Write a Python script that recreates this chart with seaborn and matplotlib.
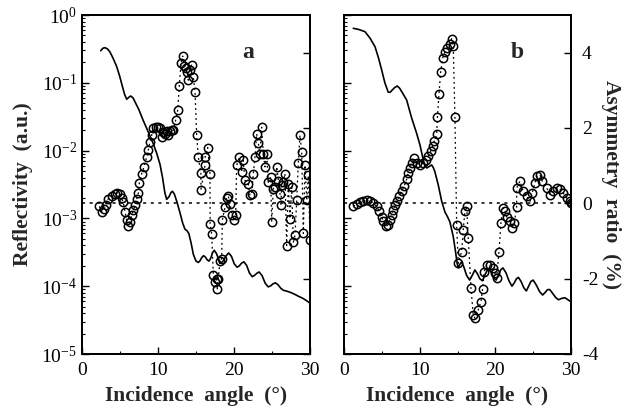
import numpy as np
import pandas as pd
import matplotlib
matplotlib.use("Agg")
import matplotlib.pyplot as plt
import seaborn as sns
from matplotlib.ticker import LogLocator, MultipleLocator, NullFormatter, LogFormatterMathtext, FixedLocator

# ---------------- data ----------------
# Panel a : reflectivity (log10 values) vs incidence angle
refl_a_angle = [2.46, 2.75, 3.03, 3.35, 3.68, 4.1, 4.57, 4.95, 5.26, 5.6, 5.88, 6.15, 6.41, 6.7,
                6.97, 7.5, 8.03, 8.7, 9.34, 9.8, 10.26, 10.6, 10.9, 11.14, 11.45, 11.7, 11.9,
                12.15, 12.5, 12.9, 13.25, 13.55, 13.8, 14.05, 14.35, 14.65, 15.0, 15.3, 15.53,
                15.77, 16.0, 16.23, 16.47, 16.7, 16.93, 17.17, 17.4, 17.7, 18.0, 18.3, 18.63,
                18.97, 19.3, 19.67, 20.03, 20.4, 20.7, 21.0, 21.3, 21.67, 22.03, 22.4, 22.7,
                23.0, 23.3, 23.7, 24.1, 24.5, 24.82, 25.13, 25.45, 25.8, 26.15, 26.5, 27.0,
                27.5, 28.0, 28.5, 29.0, 29.5, 30.0]
refl_a_log = [-0.527, -0.49, -0.482, -0.50, -0.546, -0.64, -0.763, -0.90, -1.03, -1.17, -1.243,
              -1.215, -1.195, -1.22, -1.28, -1.40, -1.549, -1.72, -1.888, -2.03, -2.20, -2.40,
              -2.62, -2.72, -2.68, -2.62, -2.60, -2.64, -2.76, -2.92, -3.07, -3.16, -3.18, -3.22,
              -3.36, -3.53, -3.63, -3.65, -3.625, -3.575, -3.55, -3.57, -3.61, -3.63, -3.59,
              -3.51, -3.47, -3.52, -3.61, -3.66, -3.62, -3.55, -3.51, -3.56, -3.67, -3.72,
              -3.70, -3.66, -3.64, -3.695, -3.805, -3.86, -3.84, -3.81, -3.79, -3.845, -3.955,
              -4.01, -3.995, -3.965, -3.95, -3.98, -4.03, -4.06, -4.075, -4.095, -4.12, -4.15,
              -4.175, -4.21, -4.25]

# Panel a : asymmetry ratio (%)
asym_a_angle = [2.28, 2.59, 2.89, 3.16, 3.42, 3.91, 4.34, 4.64, 5.0, 5.22, 5.43, 5.66, 5.88, 6.09,
                6.32, 6.54, 6.75, 6.97, 7.2, 7.41, 7.54, 7.86, 8.16, 8.51, 8.72, 8.95, 9.17, 9.38,
                9.74, 10.0, 10.26, 10.49, 10.7, 10.92, 11.14, 11.36, 11.58, 11.8, 12.01, 12.33,
                12.59, 12.8, 13.03, 13.25, 13.42, 13.62, 13.86, 13.99, 14.15, 14.43, 14.64, 14.87,
                15.09, 15.3, 15.64, 15.66, 16.18, 16.2, 16.54, 16.84, 16.86, 17.06, 17.28, 17.5,
                17.72, 17.8, 17.93, 18.16, 18.38, 18.46, 18.82, 19.04, 19.25, 19.47, 19.74, 20.04,
                20.22, 20.35, 20.7, 21.0, 21.2, 21.45, 21.88, 22.1, 22.33, 22.54, 22.76, 22.98,
                23.2, 23.42, 23.64, 23.86, 24.08, 24.3, 24.51, 24.83, 24.96, 25.17, 25.39, 25.62,
                25.85, 26.05, 26.18, 26.28, 26.49, 26.7, 26.93, 27.14, 27.37, 27.59, 27.8, 28.03,
                28.25, 28.46, 28.68, 28.91, 29.12, 29.34, 29.57, 29.78, 30.0]
asym_a = [-0.08, -0.23, -0.16, -0.05, 0.11, 0.19, 0.24, 0.27, 0.24, 0.13, 0.03, -0.23, -0.45, -0.59,
          -0.50, -0.32, -0.19, -0.05, 0.11, 0.27, 0.53, 0.79, 0.97, 1.23, 1.41, 1.63, 1.81, 1.99,
          2.03, 2.02, 1.99, 1.76, 1.89, 1.85, 1.91, 1.81, 1.91, 1.94, 1.94, 2.21,
          2.47, 3.11, 3.72, 3.91, 3.64, 3.59, 3.48, 3.27, 3.54, 3.67, 3.36, 2.96,
          1.81, 1.23, 0.81, 0.35, 1.01, 1.23, 1.48, 0.79, -0.54, -0.81, -1.91, -2.10,
          -2.00, -2.27, -2.00, -1.52, -1.47, -0.45, -0.10, 0.13, 0.19, -0.01, -0.30, -0.45,
          -0.32, 1.01, 1.23, 0.83, 1.14, 0.61, 0.52, 0.21, 0.26, 0.79, 1.23, 1.85,
          1.59, 1.32, 2.02, 1.30, 0.97, 1.30, 0.56, 0.70, -0.50, 0.39, 0.43, 0.97,
          0.60, 0.26, -0.05, 0.48, 0.57, 0.79, -1.12, 0.52, -0.41, 0.43, -1.03, -0.85,
          0.08, 1.06, 1.81, 1.36, -0.80, 1.01, 0.08, 0.74, -0.97]

# Panel b : reflectivity (log10 values)
refl_b_angle = [1.23, 2.0, 2.77, 3.43, 3.8, 4.1, 4.55, 4.98, 5.4, 5.85, 6.1, 6.34, 6.7, 7.04, 7.35,
                7.66, 8.28, 8.94, 9.6, 10.04, 10.48, 10.75, 10.96, 11.25, 11.58, 11.8, 12.02,
                12.46, 12.9, 13.34, 13.7, 14.0, 14.44, 14.75, 14.95, 15.1, 15.3, 15.55, 15.85,
                16.2, 16.6, 16.95, 17.3, 17.65, 17.95, 18.3, 18.6, 18.9, 19.2, 19.5, 19.8, 20.1,
                20.4, 20.7, 21.0, 21.4, 21.8, 22.2, 22.5, 22.8, 23.05, 23.4, 23.75, 24.1, 24.4,
                24.7, 25.0, 25.4, 25.85, 26.25, 26.6, 26.9, 27.2, 27.6, 28.0, 28.35, 28.75,
                29.2, 29.6, 30.0]
refl_b_log = [-0.196, -0.215, -0.246, -0.34, -0.41, -0.468, -0.63, -0.811, -1.0, -1.14, -1.14,
              -1.11, -1.07, -1.047, -1.08, -1.136, -1.254, -1.519, -1.745, -1.917, -2.139, -2.23,
              -2.257, -2.235, -2.212, -2.25, -2.316, -2.507, -2.743, -2.906, -2.98, -3.053, -3.27,
              -3.50, -3.66, -3.73, -3.68, -3.64, -3.72, -3.84, -3.91, -3.84, -3.76, -3.82, -3.89,
              -3.92, -3.84, -3.77, -3.75, -3.80, -3.88, -3.91, -3.84, -3.76, -3.73, -3.80, -3.92,
              -4.0, -3.95, -3.89, -3.87, -3.93, -4.02, -4.07, -4.0, -3.93, -3.91, -3.98, -4.08,
              -4.13, -4.09, -4.05, -4.05, -4.11, -4.17, -4.2, -4.18, -4.17, -4.2, -4.23]

# Panel b : asymmetry ratio (%)
asym_b_angle = [1.23, 1.68, 2.11, 2.55, 3.0, 3.43, 3.87, 4.32, 4.66, 4.98, 5.19, 5.55, 5.85, 6.08,
                6.3, 6.51, 6.74, 6.96, 7.31, 7.62, 7.93, 8.28, 8.49, 8.72, 8.94, 9.25, 9.6, 10.04,
                10.48, 10.83, 11.14, 11.45, 11.72, 11.93, 12.25, 12.35, 12.55, 12.77, 13.04, 13.34,
                13.65, 14.0, 14.23, 14.44, 14.66, 14.89, 15.1, 15.55, 15.76, 15.98, 16.21, 16.42,
                16.78, 17.08, 17.31, 17.74, 18.1, 18.32, 18.53, 18.85, 19.29, 19.72, 19.95, 20.17,
                20.48, 20.74, 21.04, 21.27, 21.49, 21.93, 22.15, 22.5, 22.81, 22.83, 23.25, 23.69,
                24.13, 24.57, 24.87, 25.23, 25.5, 25.89, 26.2, 26.78, 27.21, 27.65, 28.1, 28.53,
                28.97, 29.42, 29.85, 30.0]
asym_b = [-0.08, -0.03, 0.03, 0.07, 0.10, 0.07, 0.01, -0.08, -0.21, -0.35, -0.48, -0.61, -0.57, -0.43,
          -0.30, -0.17, -0.05, 0.05, 0.19, 0.32, 0.45, 0.64, 0.81, 0.94, 1.07, 1.20, 1.07, 1.03,
          1.07, 1.16, 1.25, 1.38, 1.52, 1.65, 1.83, 2.29, 2.89, 3.48, 3.86, 4.02,
          4.12, 4.23, 4.37, 4.18, 2.29, -0.57, -1.59, -1.28, -0.70, -0.21, -0.08, -0.92,
          -2.24, -2.96, -3.05, -2.83, -2.61, -2.27, -1.81, -1.63, -1.63, -1.72, -1.85, -1.99,
          -1.28, -0.52, -0.12, -0.21, -0.35, -0.47, -0.66, -0.52, -0.11, 0.41, 0.59, 0.32,
          0.19, 0.05, 0.27, 0.54, 0.72, 0.76, 0.59, 0.41, 0.23, 0.32, 0.41, 0.39,
          0.27, 0.14, 0.05, 0.01]

x_ticks = [0, 10, 20, 30]
asym_ticks = [-4, -2, 0, 2, 4]
asym_tick_labels = ["-4", "-2", "0", "2", "4"]

# ---------------- style ----------------
sns.set_theme(style="white")
plt.rcParams["font.family"] = ["Liberation Serif", "DejaVu Serif"]
plt.rcParams["mathtext.fontset"] = "custom"
plt.rcParams["mathtext.rm"] = "Liberation Serif"
plt.rcParams["mathtext.it"] = "Liberation Serif:italic"
plt.rcParams["mathtext.bf"] = "Liberation Serif:bold"
plt.rcParams["axes.unicode_minus"] = False

fig = plt.figure(figsize=(6.29, 4.13), dpi=100)
axA = fig.add_axes([82 / 629, 59 / 413, 228 / 629, 339 / 413])
axB = fig.add_axes([344 / 629, 59 / 413, 227 / 629, 339 / 413])

TICK_FS = 14
LABEL_FS = 15.5

def draw_panel(ax, r_ang, r_log, a_ang, a_val, letter, right_labels):
    df_r = pd.DataFrame({"angle": r_ang, "refl": np.power(10.0, r_log)})
    df_a = pd.DataFrame({"angle": a_ang, "asym": a_val})
    sns.lineplot(data=df_r, x="angle", y="refl", ax=ax, color="black", linewidth=1.2,
                 estimator=None, sort=False)
    ax.set_yscale("log")
    ax.set_ylim(1e-5, 1)
    ax.set_xlim(0, 30)
    tw = ax.twinx()
    tw.axhline(0, color="black", linewidth=1.1, linestyle=(0, (2, 3)), zorder=1)
    sns.lineplot(data=df_a, x="angle", y="asym", ax=tw, color="black", linewidth=0.9,
                 linestyle=(0, (1.5, 2.5)), marker="o", markersize=6,
                 markerfacecolor="none", markeredgecolor="black", markeredgewidth=1.1,
                 estimator=None, sort=False)
    tw.set_ylim(-4, 5)
    tw.set_xlim(0, 30)
    tw.yaxis.set_major_locator(FixedLocator(asym_ticks))
    if right_labels:
        tw.set_yticklabels(asym_tick_labels, fontsize=TICK_FS)
        tw.set_ylabel("Asymmetry  ratio  (%)", fontsize=LABEL_FS, fontweight="bold",
                      rotation=-90, labelpad=16)
    else:
        tw.set_yticklabels([])
        tw.set_ylabel("")
    tw.tick_params(axis="y", direction="in", length=5, width=1.0, pad=8, colors="black")
    tw.set_xlabel("")

    ax.xaxis.set_major_locator(FixedLocator(x_ticks))
    ax.xaxis.set_minor_locator(MultipleLocator(5))
    ax.yaxis.set_major_locator(LogLocator(base=10, numticks=10))
    ax.yaxis.set_minor_locator(LogLocator(base=10, subs=np.arange(2, 10), numticks=20))
    ax.yaxis.set_minor_formatter(NullFormatter())
    ax.tick_params(axis="both", which="major", direction="in", length=5, width=1.0,
                   labelsize=TICK_FS, colors="black", top=False, right=False)
    ax.tick_params(axis="both", which="minor", direction="in", length=2.5, width=0.8,
                   colors="black", top=False, right=False)
    ax.tick_params(axis="x", which="both", bottom=True, pad=6)
    ax.tick_params(axis="y", which="both", left=True)
    ax.set_xlabel("Incidence  angle  (°)", fontsize=LABEL_FS, fontweight="bold", labelpad=5)
    ax.text(0.73 if letter == "a" else 0.765, 0.89, letter, transform=ax.transAxes,
            fontsize=17, fontweight="bold", ha="center", va="center")
    for a in (ax, tw):
        for s in a.spines.values():
            s.set_color("black")
            s.set_linewidth(1.3)
    return tw

twA = draw_panel(axA, refl_a_angle, refl_a_log, asym_a_angle, asym_a, "a", False)
twB = draw_panel(axB, refl_b_angle, refl_b_log, asym_b_angle, asym_b, "b", True)

axA.yaxis.set_major_formatter(LogFormatterMathtext())
axA.set_ylabel("Reflectivity  (a.u.)", fontsize=LABEL_FS, fontweight="bold", labelpad=6)
axB.set_yticklabels([])
axB.set_ylabel("")

fig.savefig("out.png", dpi=100)
